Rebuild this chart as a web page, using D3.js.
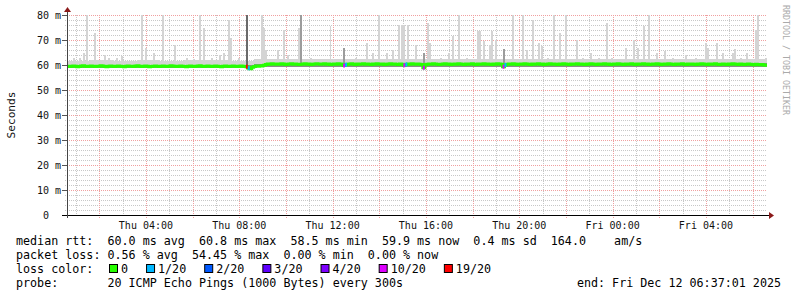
<!DOCTYPE html>
<html>
<head>
<meta charset="utf-8">
<script src="https://cdn.jsdelivr.net/npm/d3@7"></script>
<style>
  body { margin: 0; background: #fff; }
  svg text { font-family: "DejaVu Sans Mono", monospace; white-space: pre; }
</style>
</head>
<body>
<div id="chart"></div>
<script>
const width = 797;
const height = 297;

// time span: 30 hours of 5 minute samples
const start = new Date(2025, 11, 11, 0, 37, 1);
const end = new Date(2025, 11, 12, 6, 37, 1);
const step = 300; // seconds per sample

// median rtt in ms, one row per hour (12 samples)
const medianRtt = [
  59.5,59.4,59.5,59.6,59.5,59.3,59.4,59.6,59.7,59.5,59.4,59.5,
  59.6,59.5,59.4,59.5,59.5,59.7,59.6,59.4,59.3,59.5,59.6,59.5,
  59.4,59.5,59.6,59.5,59.4,59.3,59.5,59.6,59.5,59.5,59.4,59.6,
  59.7,59.5,59.4,59.5,59.6,59.5,59.3,59.4,59.5,59.6,59.5,59.4,
  59.5,59.6,59.5,59.4,59.5,59.7,59.6,59.5,59.4,59.5,59.6,59.5,
  59.4,59.3,59.5,59.6,59.5,59.4,59.5,59.6,59.7,59.5,59.4,59.5,
  59.6,59.5,59.4,59.5,59.6,59.5,59.4,59.3,59.5,59.6,59.5,59.4,
  59.5,59.6,59.5,59.4,59.5,59.6,59.5,59.4,59.3,58.7,58.5,59.1,
  59.4,59.6,59.5,59.6,59.7,59.9,60.2,60.4,60.3,60.5,60.4,60.3,
  60.4,60.3,60.5,60.4,60.2,60.3,60.4,60.5,60.3,60.4,60.3,60.2,
  60.3,60.4,60.5,60.3,60.4,60.2,60.3,60.4,60.5,60.4,60.3,60.4,
  60.5,60.3,60.4,60.2,60.3,60.4,60.3,60.5,60.4,60.3,59.8,60.1,
  60.3,60.4,60.5,60.3,60.2,60.4,60.3,60.4,60.5,60.3,60.4,60.3,
  60.2,60.4,60.3,60.5,60.4,60.3,60.4,60.2,60.3,60.4,60.5,60.3,
  60.4,60.3,60.2,60.4,60.3,59.9,60.2,60.4,60.3,60.5,60.4,60.3,
  60.4,60.3,60.2,58.9,60.1,60.3,60.4,60.3,60.5,60.4,60.3,60.2,
  60.3,60.4,60.5,60.3,60.4,60.2,60.3,60.4,60.3,60.5,60.4,60.3,
  60.2,60.4,60.3,60.4,60.5,60.3,60.2,60.4,60.3,60.4,60.5,60.3,
  60.4,60.3,60.2,60.4,60.3,60.5,60.4,60.3,59.3,60.0,60.3,60.4,
  60.3,60.5,60.4,60.2,60.3,60.4,60.3,60.5,60.4,60.3,60.2,60.4,
  60.3,60.4,60.5,60.3,60.4,60.2,60.3,60.4,60.5,60.3,60.4,60.3,
  60.2,60.4,60.3,60.5,60.4,60.3,60.2,60.4,60.3,60.4,60.5,60.3,
  60.4,60.3,60.2,60.4,60.3,60.5,60.4,60.3,60.2,60.4,60.3,60.4,
  60.5,60.3,60.4,60.2,60.3,60.4,60.3,60.5,60.4,60.3,60.2,60.4,
  60.3,60.4,60.5,60.3,60.2,60.4,60.3,60.4,60.5,60.3,60.4,60.2,
  60.3,60.4,60.3,60.5,60.4,60.2,60.3,60.4,60.3,60.5,60.4,60.3,
  60.2,60.4,60.3,60.4,60.5,60.3,60.2,60.4,60.3,60.4,60.3,60.2,
  60.4,60.3,60.5,60.4,60.3,60.2,60.4,60.3,60.4,60.5,60.3,60.2,
  60.3,60.4,60.3,60.2,60.4,60.3,60.5,60.4,60.3,60.2,60.4,60.3,
  60.2,60.3,60.4,60.3,60.2,60.1,60.3,60.2,60.1,60.2,60.0,59.9
];

// typical ping spread per hour (ms)
const bandLo = [58.9,58.9,58.9,58.9,58.9,58.9,58.9,58.9, 59.1,59.4,59.4,59.4,59.4,59.4,59.4,59.4,59.4,59.4,59.4,59.4,59.4,59.4,59.4,59.4,59.4,59.4,59.4,59.4,59.4,59.3];
const coreHi = [60.1,60.1,60.1,60.1,60.1,60.1,60.1,60.1, 60.6,60.9,60.9,60.9,60.9,60.9,60.9,60.9,60.9,60.9,60.9,60.9,60.9,60.9,60.9,60.9,60.9,60.9,60.9,60.9,60.9,60.8];
const bandHi = [61.8,62.0,61.7,61.9,61.8,62.1,61.9,61.8, 62.6,62.4,62.5,62.3,62.6,62.4,62.5,62.3,62.4,62.6,62.5,62.4,62.3,62.5,62.4,62.3,62.5,62.4,62.6,62.3,62.4,62.5];

// samples where the slowest pings spiked (sample index, max ms, shade 0 light / 1 medium / 2 dark)
const spikeIdx = [3,6,8,10,14,19,21,25,28,38,40,44,49,55,61,65,68,70,74,78,80,83,84,88,92,
  100,101,102,108,111,113,119,120,125,135,142,148,154,157,160,164,167,170,172,173,175,179,183,185,186,
  192,196,198,201,205,211,212,214,217,218,220,224,229,234,236,239,242,244,247,250,253,256,262,265,269,
  273,277,280,287,291,293,296,299,303,307,311,318,323,328,329,334,337,342,343,346,349,354,355,359];
const spikeMax = [63,63,65,80,73,64,63,62.8,63.5,80,67,65,80,68,62.8,62.5,80,75,63,64,65,78,71,63,80,
  80,75,66,66,74,64,75,80,62.8,75.5,67,63,69,65,80,65,66,76,76,76,76,68,65,77,69,
  63,65,71.5,80,63,73.5,73.5,69.5,68,73.5,70,66.5,80,80,66,78,69,67.5,63,80,73,80,70,63,65,
  63,77,63,67,70,67,75.5,80,65,65.5,63,64,63,69,67,69,65,65,66.5,63,65,74,80,63];
const spikeShade = [0,0,0,0,0,0,0,0,0,0,0,0,0,0,0,0,0,0,0,0,0,0,0,0,2,
  0,0,0,0,0,0,0,1,0,0,1,0,0,0,0,0,0,0,0,0,0,0,1,0,0,
  0,0,0,0,0,0,0,0,0,0,0,1,0,0,0,0,0,0,0,0,0,0,0,0,0,
  0,0,0,0,0,0,0,0,0,0,0,0,0,0,0,0,0,0,0,0,0,0,0,0];

// samples with packet loss (lost pings out of 20)
const lossIdx = [92,93,142,143,173,174,183,224,225];
const lossCount = [19,1,10,1,10,1,10,10,1];

const lossLevels = [0, 1, 2, 3, 4, 10, 19];
const lossLabels = ["0", "1/20", "2/20", "3/20", "4/20", "10/20", "19/20"];
const lossColors = ["#26ff00", "#00b8ff", "#0059ff", "#5e00ff", "#7e00ff", "#dd00ff", "#ff0000"];

const legendRtt = "median rtt:  60.0 ms avg  60.8 ms max  58.5 ms min  59.9 ms now  0.4 ms sd  164.0    am/s";
const legendLoss = "packet loss: 0.56 % avg  54.45 % max  0.00 % min  0.00 % now";
const legendProbe = "probe:       20 ICMP Echo Pings (1000 Bytes) every 300s";
const legendEnd = "end: Fri Dec 12 06:37:01 2025";

const plotLeft = 67, plotRight = 767, plotTop = 15, plotBottom = 215;

const x = d3.scaleTime([start, end], [plotLeft, plotRight]);
const y = d3.scaleLinear([0, 80], [plotBottom, plotTop]);
const tAt = i => new Date(start.getTime() + i * step * 1000);
const colorFor = n => lossColors[Math.max(0, lossLevels.findIndex(l => l >= n))];

const svg = d3.select("#chart")
  .append("svg")
  .attr("width", width)
  .attr("height", height)
  .attr("viewBox", [0, 0, width, height]);

// grid
const grid = svg.append("g").attr("shape-rendering", "crispEdges");
const hours = d3.timeHour.range(start, end);
const yMinor = d3.range(0, 81, 2).filter(v => v % 10 !== 0);
const yMajor = d3.range(0, 81, 10);

grid.selectAll(".vminor")
  .data(hours.filter(h => h.getHours() % 2 !== 0))
  .join("line")
  .attr("x1", d => Math.round(x(d)) + 0.5).attr("x2", d => Math.round(x(d)) + 0.5)
  .attr("y1", plotTop).attr("y2", plotBottom + 2)
  .attr("stroke", "#c8c8c8").attr("stroke-dasharray", "1,1");

grid.selectAll(".hminor")
  .data(yMinor)
  .join("line")
  .attr("x1", plotLeft - 2).attr("x2", plotRight)
  .attr("y1", d => Math.round(y(d)) + 0.5).attr("y2", d => Math.round(y(d)) + 0.5)
  .attr("stroke", "#c8c8c8").attr("stroke-dasharray", "1,1");

grid.selectAll(".vmajor")
  .data(hours.filter(h => h.getHours() % 2 === 0))
  .join("line")
  .attr("x1", d => Math.round(x(d)) + 0.5).attr("x2", d => Math.round(x(d)) + 0.5)
  .attr("y1", plotTop).attr("y2", plotBottom + 3)
  .attr("stroke", "#f0a0a0").attr("stroke-dasharray", "1,1");

grid.selectAll(".hmajor")
  .data(yMajor.filter(v => v > 0))
  .join("line")
  .attr("x1", plotLeft - 4).attr("x2", plotRight)
  .attr("y1", d => Math.round(y(d)) + 0.5).attr("y2", d => Math.round(y(d)) + 0.5)
  .attr("stroke", "#f0a0a0").attr("stroke-dasharray", "1,1");

grid.selectAll(".hmajortick")
  .data(yMajor)
  .join("line")
  .attr("x1", plotLeft - 5).attr("x2", plotLeft)
  .attr("y1", d => Math.round(y(d)) + 0.5).attr("y2", d => Math.round(y(d)) + 0.5)
  .attr("stroke", "#555");

// smoke
const samples = medianRtt.map((m, i) => {
  const h = Math.floor(i / 12);
  const s = spikeIdx.indexOf(i);
  return {
    i, m,
    lo: bandLo[h],
    core: coreHi[h],
    hi: s >= 0 ? Math.min(80, spikeMax[s]) : bandHi[h],
    shade: s >= 0 ? spikeShade[s] : 0
  };
});

const smoke = svg.append("g").attr("shape-rendering", "crispEdges");
const sx = d => x(tAt(d.i));
const sw = d => x(tAt(d.i + 1)) - x(tAt(d.i));

smoke.selectAll(".light")
  .data(samples)
  .join("rect")
  .attr("x", sx).attr("width", sw)
  .attr("y", d => y(d.hi)).attr("height", d => y(d.lo) - y(d.hi))
  .attr("fill", "#d4d4d4");

smoke.selectAll(".shade")
  .data(samples.filter(d => d.shade > 0))
  .join("rect")
  .attr("x", sx).attr("width", sw)
  .attr("y", d => y(d.hi)).attr("height", d => y(d.lo) - y(d.hi))
  .attr("fill", d => d.shade === 2 ? "#6a6a6a" : "#9c9c9c");

smoke.selectAll(".core")
  .data(samples)
  .join("rect")
  .attr("x", sx).attr("width", sw)
  .attr("y", d => y(d.core)).attr("height", d => y(d.lo) - y(d.core))
  .attr("fill", "#8c8c8c");

// median line
const line = d3.line()
  .x(d => x(tAt(d.i)))
  .y(d => y(d.m))
  .curve(d3.curveStepAfter);

svg.append("path")
  .datum(samples.concat([{ i: samples.length, m: medianRtt[medianRtt.length - 1] }]))
  .attr("d", line)
  .attr("fill", "none")
  .attr("stroke", lossColors[0])
  .attr("stroke-width", 3);

svg.append("g")
  .selectAll("line")
  .data(lossIdx.map((i, k) => ({ i, n: lossCount[k], m: medianRtt[i] })))
  .join("line")
  .attr("x1", d => x(tAt(d.i))).attr("x2", d => x(tAt(d.i + 1)))
  .attr("y1", d => y(d.m)).attr("y2", d => y(d.m))
  .attr("stroke", d => colorFor(d.n))
  .attr("stroke-width", 4);

// axes
const axes = svg.append("g").attr("shape-rendering", "crispEdges");
axes.append("line")
  .attr("x1", plotLeft - 5).attr("x2", plotRight + 3)
  .attr("y1", plotBottom + 0.5).attr("y2", plotBottom + 0.5)
  .attr("stroke", "#000");
axes.append("line")
  .attr("x1", plotLeft + 0.5).attr("x2", plotLeft + 0.5)
  .attr("y1", plotTop - 4).attr("y2", plotBottom + 3)
  .attr("stroke", "#444");
svg.append("path")
  .attr("d", `M${plotRight + 2},${plotBottom - 3}L${plotRight + 7},${plotBottom + 0.5}L${plotRight + 2},${plotBottom + 4}Z`)
  .attr("fill", "#8b1a1a");
svg.append("path")
  .attr("d", `M${plotLeft - 3},${plotTop - 3}L${plotLeft + 0.5},${plotTop - 8}L${plotLeft + 4},${plotTop - 3}Z`)
  .attr("fill", "#8b1a1a");

// tick labels
svg.append("g")
  .selectAll("text")
  .data(hours.filter(h => h.getHours() % 4 === 0))
  .join("text")
  .attr("x", d => x(d))
  .attr("y", plotBottom + 13.5)
  .attr("text-anchor", "middle")
  .attr("font-size", 10)
  .attr("fill", "#111")
  .text(d3.timeFormat("%a %H:%M"));

svg.append("g")
  .selectAll("text")
  .data(yMajor)
  .join("text")
  .attr("x", 61)
  .attr("y", d => y(d) + 3.5)
  .attr("text-anchor", "end")
  .attr("font-size", 10)
  .attr("fill", "#111")
  .attr("xml:space", "preserve")
  .text(d => d === 0 ? "0  " : d + " m");

svg.append("text")
  .attr("transform", "translate(15,115) rotate(-90)")
  .attr("text-anchor", "middle")
  .attr("font-size", 11.2)
  .attr("fill", "#111")
  .text("Seconds");

svg.append("text")
  .attr("transform", "translate(783,5) rotate(90)")
  .attr("font-size", 8.3)
  .attr("fill", "#aaa")
  .text("RRDTOOL / TOBI OETIKER");

// legend
const legend = svg.append("g")
  .attr("font-size", 11.7)
  .attr("fill", "#000");

const row = (txt, xPos, yPos) => legend.append("text")
  .attr("x", xPos).attr("y", yPos)
  .attr("xml:space", "preserve")
  .text(txt);

row(legendRtt, 16, 245);
row(legendLoss, 16, 259);
row("loss color:", 16, 273);
row(legendProbe, 16, 287);
row(legendEnd, 781, 287).attr("text-anchor", "end");

let cx = 109;
lossLabels.forEach((lab, k) => {
  legend.append("rect")
    .attr("x", cx + 0.5).attr("y", 264.5)
    .attr("width", 8).attr("height", 8)
    .attr("fill", lossColors[k])
    .attr("stroke", "#000");
  const t = row(lab, cx + 12, 273);
  cx += 12 + t.node().getComputedTextLength() + 18;
});
</script>
</body>
</html>
